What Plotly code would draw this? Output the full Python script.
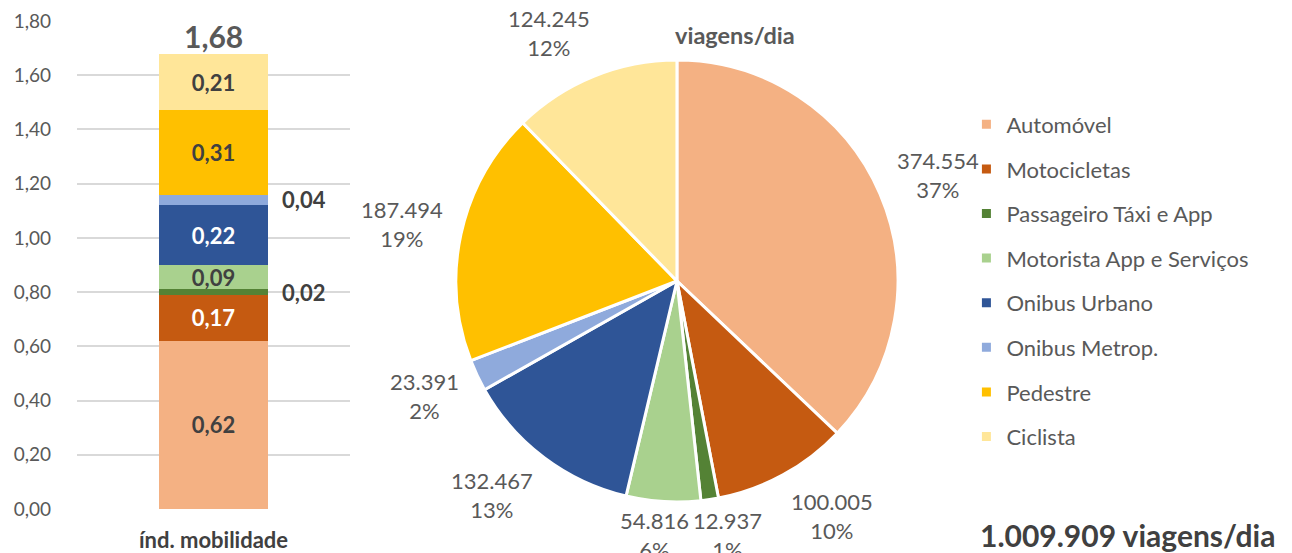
import math
import plotly.graph_objects as go

# Travel modes (same order in bar stack, pie and legend)
modes = ["Automóvel", "Motocicletas", "Passageiro Táxi e App", "Motorista App e Serviços",
         "Onibus Urbano", "Onibus Metrop.", "Pedestre", "Ciclista"]
colors = ["#F4B183", "#C55A11", "#548235", "#A9D18E",
          "#2F5597", "#8FAADC", "#FFC000", "#FFE699"]

# Mobility index per mode (stacked bar)
mobility_index = [0.62, 0.17, 0.02, 0.09, 0.22, 0.04, 0.31, 0.21]
mobility_total = 1.68
bar_category = "índ. mobilidade"

# Daily trips per mode (pie)
trips_per_day = [374554, 100005, 12937, 54816, 132467, 23391, 187494, 124245]
trip_shares = ["37%", "10%", "1%", "6%", "13%", "2%", "19%", "12%"]
total_trips_label = "1.009.909 viagens/dia"

y_ticks = [0, 0.2, 0.4, 0.6, 0.8, 1.0, 1.2, 1.4, 1.6, 1.8]

W, H = 1292, 553
FONT = "Lato, 'Open Sans', sans-serif"
GREY = "#595959"
DARK = "#404040"

# Segments too thin for an inside label get an outside label instead
small_segments = [2, 5]
label_colors = [DARK, "white", DARK, DARK, "white", DARK, DARK, DARK]


def fmt(v):
    return f"{v:.2f}".replace(".", ",")


def thousands(v):
    return f"{v:,}".replace(",", ".")


fig = go.Figure()

for i, (mode, val, col) in enumerate(zip(modes, mobility_index, colors)):
    fig.add_trace(go.Bar(
        x=[bar_category], y=[val], name=mode, marker=dict(color=col, line=dict(width=0)),
        text=[fmt(val) if i not in small_segments else ""],
        textposition="inside", insidetextanchor="middle", textangle=0,
        constraintext="none",
        textfont=dict(family=FONT, size=22, color=label_colors[i], weight="bold"),
        showlegend=False, hoverinfo="skip",
    ))

# Outside labels for the thin segments, placed at each segment's centre
cum = 0.0
for i, val in enumerate(mobility_index):
    if i in small_segments:
        fig.add_annotation(
            x=bar_category, y=cum + val / 2, xref="x", yref="y",
            text=f"<b>{fmt(val)}</b>", showarrow=False,
            xshift=90, font=dict(family=FONT, size=22, color=DARK),
        )
    cum += val

# Total on top of the stack
fig.add_annotation(
    x=bar_category, y=mobility_total, xref="x", yref="y",
    text=f"<b>{fmt(mobility_total)}</b>", showarrow=False,
    yanchor="bottom", yshift=-2, font=dict(family=FONT, size=30, color=GREY),
)

# Pie of daily trips
pie_dom_x = [0.3529, 0.6950]
pie_dom_y = [0.0922, 0.8915]
fig.add_trace(go.Pie(
    labels=modes, values=trips_per_day,
    sort=False, direction="clockwise", rotation=0,
    marker=dict(colors=colors, line=dict(color="white", width=3)),
    textinfo="none", domain=dict(x=pie_dom_x, y=pie_dom_y),
    showlegend=False, hoverinfo="label+value", automargin=False,
))

# Slice labels just outside the rim, at each slice's mid-angle
cx = (pie_dom_x[0] + pie_dom_x[1]) / 2 * W
cy = (1 - (pie_dom_y[0] + pie_dom_y[1]) / 2) * H
radius = min((pie_dom_x[1] - pie_dom_x[0]) * W, (pie_dom_y[1] - pie_dom_y[0]) * H) / 2
gap = 20
char_w = 11.4
half_h = 27
label_floor = H - 18  # lowest allowed label centre
total = sum(trips_per_day)
boxes = []
acc = 0
for val, share in zip(trips_per_day, trip_shares):
    theta = 2 * math.pi * (acc + val / 2) / total
    ux, uy = math.sin(theta), -math.cos(theta)
    half_w = len(thousands(val)) * char_w / 2
    side = max(-1.0, min(1.0, 2.5 * ux))
    px = cx + (radius + gap) * ux + half_w * side
    py = min(cy + (radius + gap) * uy + half_h * uy, label_floor)
    boxes.append([px, py, half_w])
    acc += val

# Push apart neighbouring labels that collide
for i in range(len(boxes) - 1):
    a, b = boxes[i], boxes[i + 1]
    ox = (a[2] + b[2] + 4) - abs(a[0] - b[0])
    oy = 2 * half_h - abs(a[1] - b[1])
    if ox > 0 and oy > 0:
        sgn = 1 if a[0] >= b[0] else -1
        a[0] += sgn * ox / 2
        b[0] -= sgn * ox / 2

for (px, py, _), val, share in zip(boxes, trips_per_day, trip_shares):
    fig.add_annotation(
        x=px / W, y=1 - py / H, xref="paper", yref="paper",
        xanchor="center", yanchor="middle", showarrow=False,
        text=f"{thousands(val)}<br>{share}",
        font=dict(family=FONT, size=22, color=GREY),
    )

# Legend entries as square swatches
for i, (mode, col) in enumerate(zip(modes, colors)):
    fig.add_trace(go.Scatter(
        x=[None], y=[None], mode="markers", name=mode, legendgroup=f"g{i}",
        marker=dict(symbol="square", size=9, color=col),
        showlegend=True, hoverinfo="skip",
    ))

fig.add_annotation(
    x=0.569, y=0.937, xref="paper", yref="paper", text="<b>viagens/dia</b>",
    xanchor="center", yanchor="middle",
    showarrow=False, font=dict(family=FONT, size=23.5, color=GREY),
)
fig.add_annotation(
    x=0.873, y=0.033, xref="paper", yref="paper", text=f"<b>{total_trips_label}</b>",
    xanchor="center", yanchor="middle",
    showarrow=False, font=dict(family=FONT, size=30, color=DARK),
)

fig.update_layout(
    width=W, height=H, margin=dict(l=0, r=0, t=0, b=0, autoexpand=False),
    paper_bgcolor="white", plot_bgcolor="white",
    separators=",.", barmode="stack", bargap=0.6,
    font=dict(family=FONT, color=GREY),
    xaxis=dict(domain=[0.0596, 0.2709], showgrid=False, zeroline=False, showline=False,
               automargin=False, ticks="", ticklabelstandoff=16,
               tickfont=dict(family=FONT, size=22, color=DARK, weight="bold")),
    yaxis=dict(domain=[0.0796, 0.962], range=[0, 1.8], tickvals=y_ticks,
               tickformat=".2f", showgrid=True, gridcolor="#D9D9D9", gridwidth=1.5,
               zeroline=False, showline=False, ticks="", ticklabelstandoff=25,
               automargin=False,
               tickfont=dict(family=FONT, size=19, color=GREY)),
    legend=dict(x=0.748, y=0.8128, xanchor="left", yanchor="top", tracegroupgap=13,
                font=dict(family=FONT, size=22, color=GREY), bgcolor="rgba(0,0,0,0)"),
)

fig.write_html("out.html")
